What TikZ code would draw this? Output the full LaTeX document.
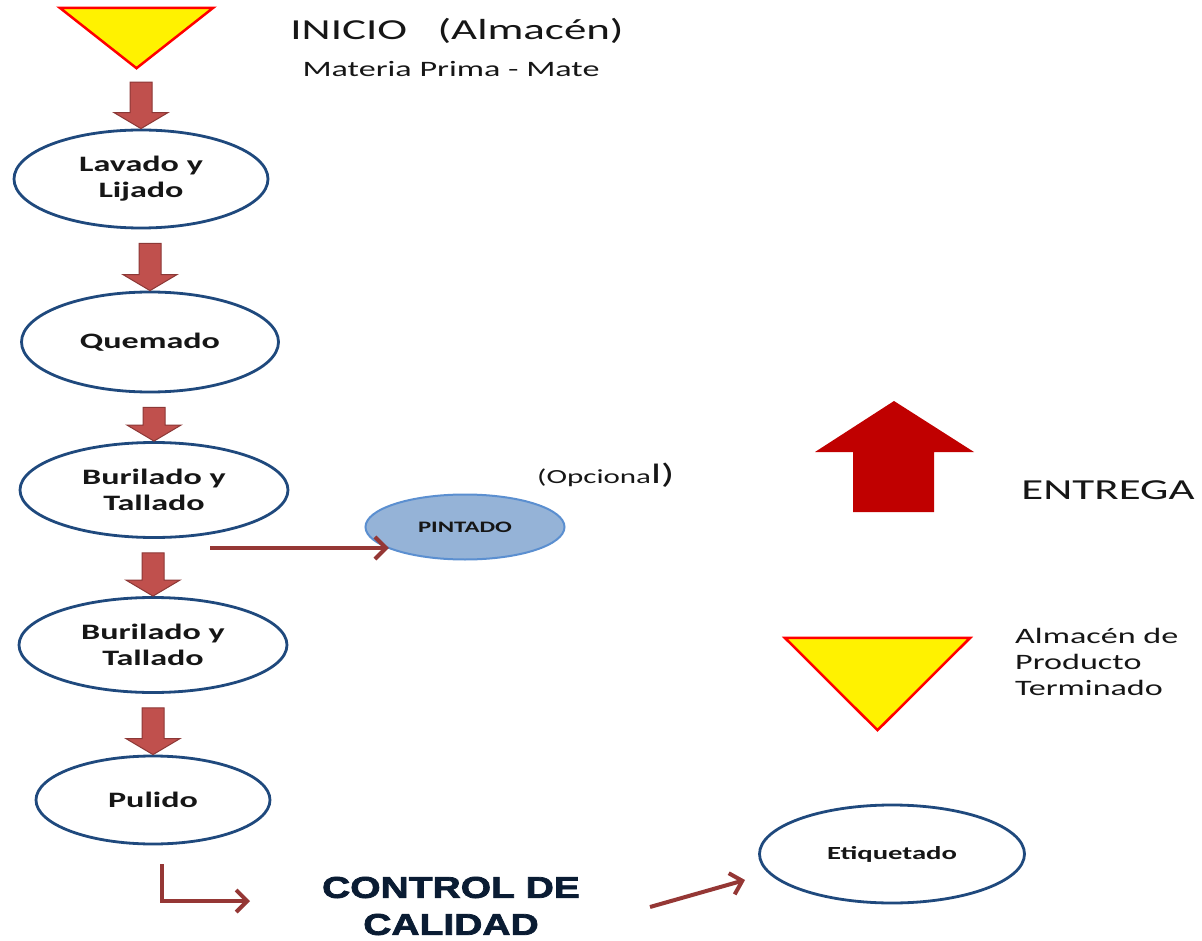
\documentclass[tikz,border=0pt]{standalone}
\usepackage{fontspec}
\setmainfont{Carlito}[FakeStretch=1.55]
\newfontfamily\ctrlfont{Liberation Sans}[FakeStretch=1.3,FakeBold=2.5]
\usetikzlibrary{shapes.geometric,calc,arrows.meta}

\definecolor{navy}{HTML}{1F497D}
\definecolor{blockfill}{HTML}{C0504D}
\definecolor{blockline}{HTML}{8C3836}
\definecolor{linkred}{HTML}{953735}
\definecolor{paintfill}{HTML}{95B3D7}
\definecolor{paintline}{HTML}{5B8FD0}
\definecolor{deepred}{HTML}{C00000}
\definecolor{ink}{HTML}{161616}
\definecolor{ctrlink}{HTML}{0A1C33}

\tikzset{
  proc/.style={ellipse, draw=navy, line width=2.8pt, fill=white, inner sep=0pt,
    align=center, text=ink, font=\bfseries\fontsize{22}{26}\selectfont},
  store/.style={rectangle, inner sep=0pt},
  storetri/.style={fill=yellow, draw=red, line width=2.5pt, line join=miter},
  blockarrow/.style={fill=blockfill, draw=blockline, line width=1pt},
  link/.style={draw=linkred, line width=4pt,
    -{Straight Barb[length=11pt,width=22pt,line width=4pt]}},
  label/.style={text=ink, inner sep=0pt}
}

% thick downward block arrow between two stacked nodes
\newcommand\flowarrow[2]{%
  \filldraw[blockarrow] let \p1=(#1.south), \p2=(#2.north) in
    (\x2-11pt,\y1-14pt) -- (\x2+11pt,\y1-14pt) -- (\x2+11pt,\y2+16pt) --
    (\x2+27pt,\y2+16pt) -- (\x2,\y2) -- (\x2-27pt,\y2+16pt) --
    (\x2-11pt,\y2+16pt) -- cycle;}

\begin{document}
\begin{tikzpicture}[x=1pt,y=-1pt]
\useasboundingbox[fill=white] (0,0) rectangle (1202,941);

% raw material store
\node[store, minimum width=153pt, minimum height=60pt] (alm) at (136.5,38) {};
\draw[storetri] (alm.north west) -- (alm.north east) -- (alm.south) -- cycle;
\node[label, font=\fontsize{29}{32}\selectfont] (inicio) at (457,31) {INICIO\ \ \ (Almacén)};
\node[label, font=\fontsize{22}{26}\selectfont] (mat) at (451,69) {Materia Prima - Mate};

% process chain
\node[proc, minimum width=254pt, minimum height=98pt] (lav) at (141,179) {Lavado y\\Lijado};
\node[proc, minimum width=257pt, minimum height=100pt] (que) at (150,342) {Quemado};
\node[proc, minimum width=268pt, minimum height=95pt] (bur1) at (154,490) {Burilado y\\Tallado};
\node[proc, minimum width=268pt, minimum height=95pt] (bur2) at (153,645) {Burilado y\\Tallado};
\node[proc, minimum width=234pt, minimum height=88pt] (pul) at (153,800) {Pulido};

\flowarrow{alm}{lav}
\flowarrow{lav}{que}
\flowarrow{que}{bur1}
\flowarrow{bur1}{bur2}
\flowarrow{bur2}{pul}

% optional painting
\node[ellipse, draw=paintline, fill=paintfill, line width=2pt, inner sep=0pt,
  minimum width=199pt, minimum height=65pt, text=ink,
  font=\bfseries\fontsize{16}{18}\selectfont] (pint) at (465,527) {PINTADO};
\node[label, anchor=base west] (opc) at (537,483)
  {{\fontsize{20}{22}\selectfont (Opciona}{\fontsize{28}{30}\selectfont l)}};
\coordinate (p0) at (210,548);
\draw[link] (p0) -- (p0 -| pint.196);

% quality control
\node[align=center, text=ctrlink, inner sep=0pt,
  font=\ctrlfont\bfseries\fontsize{30}{37}\selectfont] (ctrl) at (451,906) {CONTROL DE\\CALIDAD};
\coordinate (c1) at (162,864);
\coordinate (c2) at (250,901);
\draw[link] (c1) |- (c2);

% labelling
\node[proc, minimum width=265pt, minimum height=98pt,
  font=\bfseries\fontsize{18.5}{22}\selectfont] (etiq) at (892,854) {Etiquetado};
\coordinate (q1) at (650,907);
\coordinate (q2) at (745,880);
\draw[link] (q1) -- (q2);

% finished goods store
\node[store, minimum width=185pt, minimum height=92pt] (apt) at (877.5,684) {};
\draw[storetri] (apt.north west) -- (apt.north east) -- (apt.south) -- cycle;
\node[label, align=left, anchor=north west, font=\fontsize{22}{26}\selectfont] (aptl)
  at (1015,628) {Almacén de\\Producto\\Terminado};

% delivery
\fill[deepred] (894,401) -- (974,452) -- (934,452) -- (934,512) -- (853,512) --
  (853,452) -- (815,452) -- cycle;
\node[label, font=\fontsize{29}{32}\selectfont] (entrega) at (1108,490) {ENTREGA};
\end{tikzpicture}
\end{document}
